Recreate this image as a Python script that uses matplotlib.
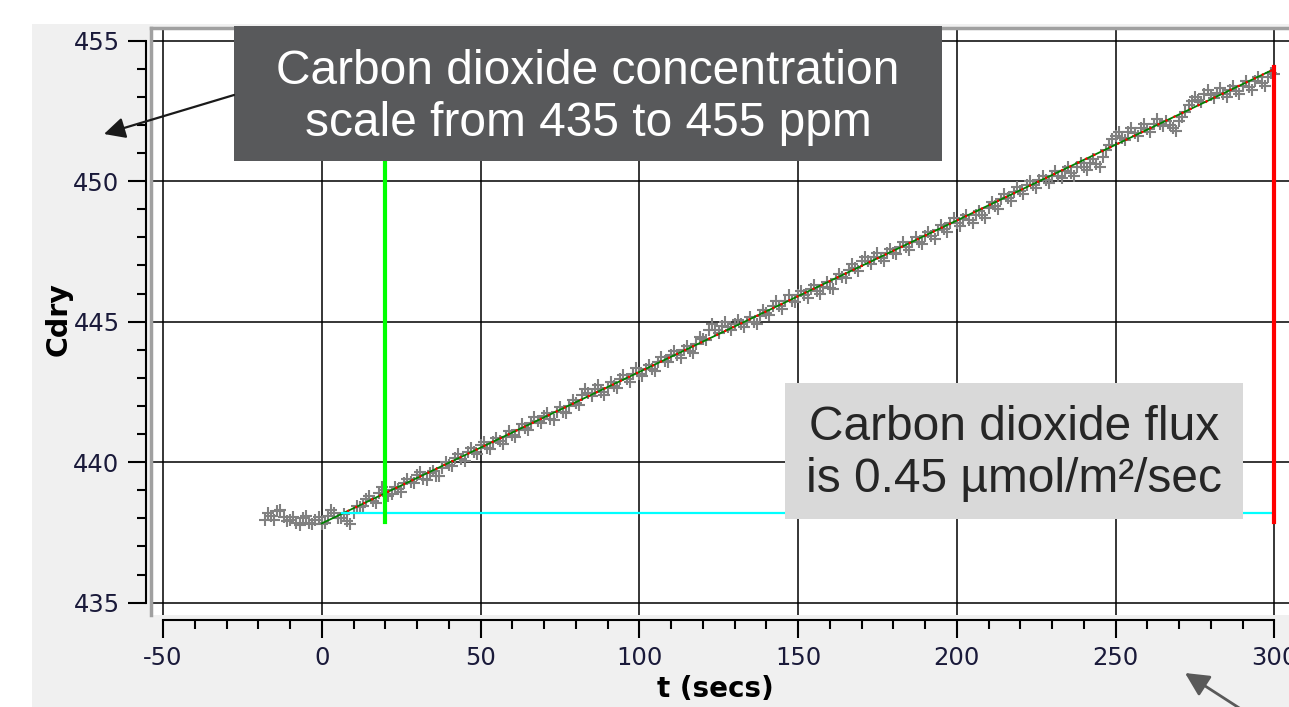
import numpy as np
import matplotlib
matplotlib.use('Agg')
import matplotlib.pyplot as plt
from matplotlib.patches import Rectangle, FancyArrowPatch
from matplotlib.ticker import MultipleLocator

plt.rcParams['axes.unicode_minus'] = False

W, H = 1289, 707

# chamber readings on even seconds
t_even = np.arange(-18, 301, 2)
cdry_even = [437.95, 438.10, 438.25, 438.05, 437.95, 437.85, 438.00, 437.85, 437.95,
             437.80, 438.10, 438.20, 438.00, 437.90, 438.20, 438.40, 438.70, 438.60, 438.90,
             439.00, 438.85, 439.05, 439.25, 439.30, 439.55, 439.40, 439.60, 439.50, 439.80,
             439.90, 440.15, 440.10, 440.35, 440.35, 440.60, 440.50, 440.70, 440.75, 440.90,
             440.95, 441.15, 441.20, 441.40, 441.45, 441.65, 441.55, 441.80, 441.80, 442.00,
             442.10, 442.40, 442.45, 442.60, 442.50, 442.65, 442.70, 442.95, 442.95, 443.15,
             443.15, 443.30, 443.30, 443.55, 443.60, 443.80, 443.80, 444.00, 443.95, 444.20,
             444.40, 444.70, 444.70, 444.85, 444.80, 444.90, 444.90, 445.00, 445.00, 445.20,
             445.30, 445.55, 445.55, 445.75, 445.75, 445.95, 445.95, 446.15, 446.10, 446.25,
             446.20, 446.50, 446.60, 446.85, 446.90, 447.15, 447.15, 447.30, 447.25, 447.45,
             447.45, 447.65, 447.65, 447.85, 447.85, 448.05, 448.05, 448.25, 448.30, 448.50,
             448.50, 448.65, 448.60, 448.80, 448.80, 449.05, 449.10, 449.35, 449.40, 449.60,
             449.65, 449.85, 449.85, 450.05, 450.05, 450.20, 450.20, 450.35, 450.30, 450.50,
             450.50, 450.65, 450.60, 450.85, 451.30, 451.60, 451.55, 451.75, 451.70, 451.90,
             451.85, 452.05, 452.05, 452.15, 451.90, 452.15, 452.45, 452.85, 452.90, 453.10,
             453.05, 453.15, 453.10, 453.25, 453.20, 453.40, 453.35, 453.55, 453.50, 453.70,
             453.80]
t_even = t_even[:len(cdry_even)]

# chamber readings on odd seconds
t_odd = np.arange(-17, 300, 2)
cdry_odd = [438.20, 437.95, 438.30, 437.90, 438.05, 437.75, 438.10, 437.80, 438.05,
            437.85, 438.30, 438.00, 438.15, 437.80, 438.45, 438.45, 438.80, 438.55, 439.10,
            438.80, 439.10, 438.95, 439.40, 439.25, 439.65, 439.35, 439.70, 439.50, 440.00,
            439.85, 440.30, 440.05, 440.50, 440.30, 440.70, 440.45, 440.85, 440.65, 441.10,
            440.90, 441.35, 441.15, 441.60, 441.40, 441.75, 441.50, 441.95, 441.75, 442.20,
            442.05, 442.60, 442.35, 442.75, 442.40, 442.85, 442.65, 443.10, 442.85, 443.35,
            443.05, 443.45, 443.25, 443.75, 443.55, 443.95, 443.70, 444.15, 443.90, 444.45,
            444.35, 444.90, 444.60, 445.00, 444.70, 445.05, 444.80, 445.15, 444.90, 445.40,
            445.25, 445.75, 445.45, 445.95, 445.70, 446.10, 445.85, 446.30, 446.00, 446.40,
            446.15, 446.70, 446.55, 447.05, 446.80, 447.30, 447.05, 447.45, 447.15, 447.60,
            447.40, 447.85, 447.55, 448.00, 447.75, 448.20, 447.95, 448.45, 448.20, 448.70,
            448.40, 448.80, 448.50, 448.95, 448.70, 449.25, 449.00, 449.55, 449.30, 449.80,
            449.55, 450.00, 449.75, 450.20, 449.95, 450.35, 450.10, 450.50, 450.20, 450.65,
            450.40, 450.80, 450.50, 451.10, 451.50, 451.75, 451.45, 451.90, 451.60, 452.05,
            451.75, 452.20, 451.95, 452.00, 451.80, 452.30, 452.70, 453.00, 452.80, 453.25,
            452.95, 453.30, 453.00, 453.40, 453.10, 453.55, 453.25, 453.70, 453.40, 453.85]
t_odd = t_odd[:len(cdry_odd)]

# linear fit and the curve fit
fit_t = [0, 300]
fit_c = [437.82, 453.99]
curve_t = [8, 300]
curve_c = [438.25, 453.99]

# marker lines
t_start = 20
t_end = 300
marker_low = 437.87
marker_high = 454.05
base_t = [6.5, 300]
base_c = 438.18


def fx(x):
    return x / W


def fy(y):
    return 1 - y / H


fig = plt.figure(figsize=(W / 100, H / 100), dpi=100)
fig.patch.set_facecolor('white')
fig.add_artist(Rectangle((fx(32), 0), 1 - fx(32), fy(24), transform=fig.transFigure,
                         facecolor='#f0f0f0', edgecolor='none', zorder=-2))

ax = fig.add_axes([fx(151), fy(615), 1 - fx(151), (615 - 28) / H])
ax.set_facecolor('white')
ax.set_xlim(-53.78, 304.63)
ax.set_ylim(434.56, 455.45)

for s in ['top', 'right']:
    ax.spines[s].set_visible(False)
for s in ['left', 'bottom']:
    ax.spines[s].set_position(('outward', 3.6))
    ax.spines[s].set_linewidth(1.5)
ax.spines['left'].set_bounds(435, 455)
ax.spines['bottom'].set_bounds(-50, 300)

ax.xaxis.set_major_locator(MultipleLocator(50))
ax.xaxis.set_minor_locator(MultipleLocator(10))
ax.yaxis.set_major_locator(MultipleLocator(5))
ax.yaxis.set_minor_locator(MultipleLocator(1))
ax.tick_params(which='major', direction='out', length=13, width=1.5, pad=6,
               labelsize=17.5, labelcolor='#1a1a3a')
ax.tick_params(which='minor', direction='out', length=6.5, width=1.5)
ax.grid(True, which='major', color='black', lw=1.1)
ax.set_axisbelow(True)

ax.plot(t_even, cdry_even, linestyle='none', marker='+', ms=8, mew=1.5, color='#808080', zorder=3)
ax.plot(t_odd, cdry_odd, linestyle='none', marker='+', ms=8, mew=1.5, color='#808080', zorder=3)
ax.plot(fit_t, fit_c, color='#008000', lw=1.3, zorder=4)
ax.plot(curve_t, curve_c, color='red', lw=1.6, ls=(0, (1, 3)), zorder=5)
ax.plot(base_t, [base_c, base_c], color='#00ffff', lw=1.6, zorder=5)
ax.plot([t_start, t_start], [marker_low, marker_high], color='#00ff00', lw=3, zorder=6)
ax.plot([t_end, t_end], [marker_low, marker_high], color='#ff0000', lw=3, zorder=6)

# grey frame on the plot area
ax.plot([0, 0], [0, 1], transform=ax.transAxes, color='#a0a0a0', lw=2.5, clip_on=False, zorder=7)
ax.plot([0, 1], [1, 1], transform=ax.transAxes, color='#a0a0a0', lw=2.5, clip_on=False, zorder=7)

fig.text(fx(59), fy(319), 'Cdry', rotation=90, fontweight='bold', fontsize=20.5,
         ha='center', va='center')
fig.text(fx(715), fy(689), 't (secs)', fontweight='bold', fontsize=20,
         ha='center', va='center')

# callout boxes
fig.add_artist(Rectangle((fx(234), fy(161)), (942 - 234) / W, (161 - 26) / H,
                         transform=fig.transFigure, facecolor='#58595b',
                         edgecolor='none', zorder=8))
fig.text(fx(588), fy(97), 'Carbon dioxide concentration\nscale from 435 to 455 ppm',
         color='white', family='Liberation Sans', fontsize=34.5, ha='center',
         va='center', zorder=9)

fig.add_artist(Rectangle((fx(785), fy(519)), (1243 - 785) / W, (519 - 383) / H,
                         transform=fig.transFigure, facecolor='#d9d9d9',
                         edgecolor='none', zorder=8))
fig.text(fx(1014), fy(454), 'Carbon dioxide flux\nis 0.45 µmol/m²/sec',
         color='#262626', family='Liberation Sans', fontsize=34.5, ha='center',
         va='center', zorder=9)

fig.add_artist(FancyArrowPatch((fx(234), fy(95)), (fx(104), fy(134)),
                               transform=fig.transFigure,
                               arrowstyle='-|>,head_length=0.8,head_width=0.4',
                               mutation_scale=16, color='#1a1a1a', lw=1.6,
                               shrinkA=0, shrinkB=0, zorder=9))
fig.add_artist(FancyArrowPatch((fx(1247), fy(713)), (fx(1185), fy(673)),
                               transform=fig.transFigure,
                               arrowstyle='-|>,head_length=0.8,head_width=0.4',
                               mutation_scale=18, color='#595959', lw=2,
                               shrinkA=0, shrinkB=0, zorder=9))

fig.savefig('out.png', dpi=100)
